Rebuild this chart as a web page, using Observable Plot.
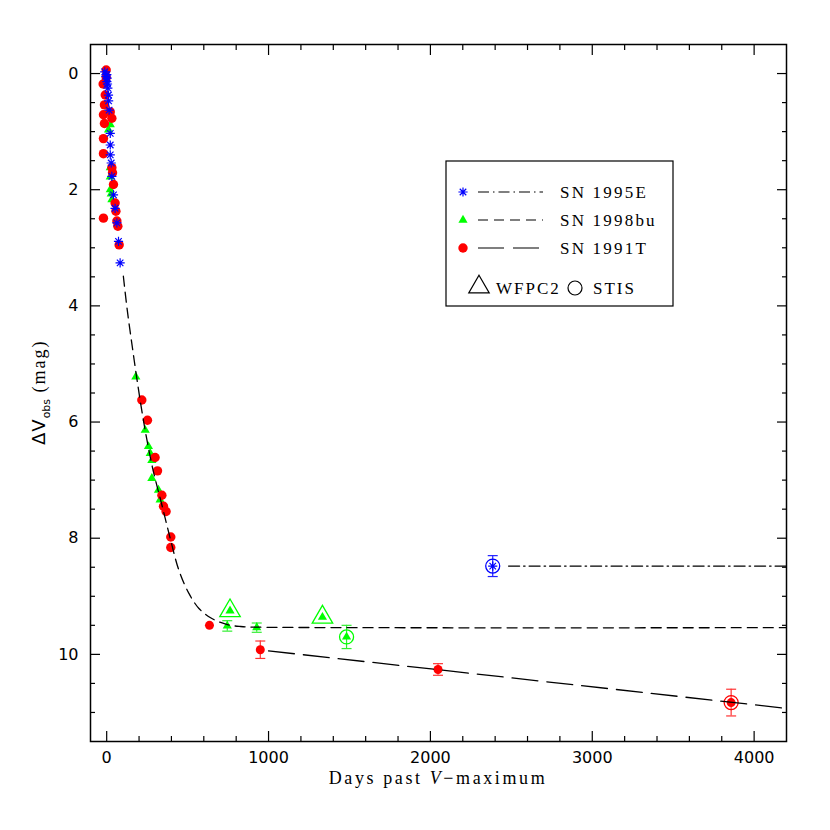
<!DOCTYPE html>
<html>
<head>
<meta charset="utf-8">
<script src="https://cdn.jsdelivr.net/npm/d3@7"></script>
<script src="https://cdn.jsdelivr.net/npm/@observablehq/plot@0.6"></script>
<style>
  body { margin: 0; background: #fff; }
  #chart { width: 830px; height: 830px; }
</style>
</head>
<body>
<div id="chart"></div>
<script>
// ---- data: [days past V-max, delta V_obs] ----
const sn1995E = [
  [-12, -0.03], [-5, 0.05], [1, 0.02], [3, 0.08], [1, 0.14], [5, 0.18], [7, 0.25],
  [11, 0.37], [12, 0.47], [15, 0.63], [22, 1.03], [22, 1.23], [22, 1.40],
  [28, 1.54], [32, 1.77], [42, 2.09], [52, 2.32], [63, 2.57], [73, 2.89], [83, 3.26]
];
const sn1998bu = [
  [11, 0.97], [22, 0.88], [22, 1.62], [22, 1.78], [22, 2.00], [28, 2.07], [32, 2.17],
  [180, 5.22], [238, 6.14], [258, 6.42], [269, 6.54], [279, 6.66], [279, 6.97],
  [320, 7.17], [330, 7.34]
];
const sn1991T = [
  [-3, -0.06], [-3, 0.07], [-22, 0.18], [-9, 0.37], [-14, 0.54], [-20, 0.71],
  [-14, 0.86], [-20, 1.12], [-20, 1.38], [22, 0.66], [32, 0.77], [32, 1.62],
  [36, 1.71], [42, 1.91], [52, 2.23], [57, 2.37], [63, 2.54], [69, 2.63], [77, 2.95],
  [-20, 2.49],
  [217, 5.62], [252, 5.97], [299, 6.61], [314, 6.84], [341, 7.26], [351, 7.45],
  [367, 7.54], [396, 7.98], [396, 8.16]
];
// late-time points: [day, mag, error, instrument]
const late1995E = [[2385, 8.48, 0.18, "STIS"]];
const late1998bu = [
  [745, 9.51, 0.09, ""], [762, 9.25, 0, "WFPC2"], [927, 9.54, 0.08, ""],
  [1333, 9.36, 0, "WFPC2"], [1482, 9.70, 0.20, "STIS"]
];
const late1991T = [
  [635, 9.50, 0, ""], [949, 9.92, 0.15, ""], [2047, 10.26, 0.10, ""], [3858, 10.83, 0.23, "STIS"]
];
// model curves
const curve1995E = [[2483, 8.48], [4200, 8.48]];
const curve1998bu = [
  [103, 3.49], [127, 4.07], [158, 4.70], [189, 5.30], [230, 6.02], [282, 6.77],
  [344, 7.46], [395, 8.03], [446, 8.55], [508, 8.95], [570, 9.21], [642, 9.37],
  [704, 9.45], [765, 9.50], [827, 9.52], [900, 9.53], [4200, 9.54]
];
const curve1991T = [[1000, 9.94], [4200, 10.93]];

const xMajorTicks = [0, 1000, 2000, 3000, 4000];
const yMajorTicks = [0, 2, 4, 6, 8, 10];
const xMinorTicks = d3.range(200, 4200, 200).filter(v => v % 1000 !== 0);
const yMinorTicks = d3.range(0.5, 11.5, 0.5).filter(v => v % 2 !== 0);

const legendNames = ["SN 1995E", "SN 1998bu", "SN 1991T"];
const instrumentNames = ["WFPC2", "STIS"];

// ---- styles ----
const BLUE = "#0000ff", GREEN = "#00ff00", RED = "#ff0000";
const DASH_95E = "11,4,1.5,4", DASH_98bu = "10,6", DASH_91T = "26,9";
const SERIF = "Liberation Serif";

const asterisk8 = {
  draw(ctx, size) {
    const r = Math.sqrt(size / Math.PI);
    for (let i = 0; i < 4; i++) {
      const a = i * Math.PI / 4;
      ctx.moveTo(r * Math.cos(a), r * Math.sin(a));
      ctx.lineTo(-r * Math.cos(a), -r * Math.sin(a));
    }
  }
};
const cap = {
  draw(ctx, size) {
    const r = Math.sqrt(size / Math.PI);
    ctx.moveTo(-r, 0); ctx.lineTo(r, 0);
  }
};

const X = d => d[0], Y = d => d[1];
const withErr = arr => arr.filter(d => d[2] > 0);
const fmt = d => String(d);

function errorMarks(arr, color) {
  const e = withErr(arr);
  return [
    Plot.ruleX(e, {x: X, y1: d => d[1] - d[2], y2: d => d[1] + d[2], stroke: color, strokeWidth: 1.2}),
    Plot.dot(e, {x: X, y: d => d[1] - d[2], symbol: cap, r: 5, stroke: color, strokeWidth: 1.2}),
    Plot.dot(e, {x: X, y: d => d[1] + d[2], symbol: cap, r: 5, stroke: color, strokeWidth: 1.2})
  ];
}

const plot = Plot.plot({
  width: 830,
  height: 830,
  marginLeft: 90,
  marginRight: 44,
  marginTop: 44,
  marginBottom: 89,
  x: {domain: [-100, 4200]},
  y: {domain: [-0.5, 11.5], reverse: true},
  style: {fontFamily: "DejaVu Sans", fontSize: "16px", background: "white", color: "black"},
  marks: [
    // early-time photometry
    Plot.dot(sn1998bu, {x: X, y: Y, symbol: "triangle", r: 3.4, fill: GREEN, stroke: "none"}),
    Plot.dot(sn1991T, {x: X, y: Y, r: 4.7, fill: RED, stroke: "none"}),
    Plot.dot(sn1995E, {x: X, y: Y, symbol: asterisk8, r: 4.6, stroke: BLUE, strokeWidth: 1.2}),
    // late-time error bars
    ...errorMarks(late1998bu, "#33ee33"),
    ...errorMarks(late1991T, "#ff3333"),
    ...errorMarks(late1995E, "#2222ff"),
    // late-time points
    Plot.dot(late1998bu, {x: X, y: Y, symbol: "triangle", r: 3.4, fill: GREEN, stroke: "none"}),
    Plot.dot(late1991T, {x: X, y: Y, r: 4.5, fill: RED, stroke: "none"}),
    Plot.dot(late1995E, {x: X, y: Y, symbol: asterisk8, r: 4.6, stroke: BLUE, strokeWidth: 1.2}),
    // instrument markers
    Plot.dot(late1998bu.filter(d => d[3] === "WFPC2"), {x: X, y: Y, symbol: "triangle", r: 7.6, stroke: GREEN, fill: "none", strokeWidth: 1.3}),
    Plot.dot(late1998bu.filter(d => d[3] === "STIS"), {x: X, y: Y, r: 7, stroke: GREEN, fill: "none", strokeWidth: 1.3}),
    Plot.dot(late1991T.filter(d => d[3] === "STIS"), {x: X, y: Y, r: 7, stroke: RED, fill: "none", strokeWidth: 1.3}),
    Plot.dot(late1995E.filter(d => d[3] === "STIS"), {x: X, y: Y, r: 7, stroke: BLUE, fill: "none", strokeWidth: 1.3}),
    // model curves
    Plot.line(curve1998bu, {x: X, y: Y, stroke: "black", strokeWidth: 1.3, strokeDasharray: DASH_98bu, curve: "catmull-rom", clip: true}),
    Plot.line(curve1991T, {x: X, y: Y, stroke: "black", strokeWidth: 1.3, strokeDasharray: DASH_91T, clip: true}),
    Plot.line(curve1995E, {x: X, y: Y, stroke: "black", strokeWidth: 1.3, strokeDasharray: DASH_95E, clip: true}),
    // frame and axes
    Plot.frame({stroke: "black", strokeWidth: 1.5}),
    Plot.axisX(xMajorTicks, {anchor: "bottom", tickSize: 0, tickPadding: 10, label: null, tickFormat: fmt}),
    Plot.axisY(yMajorTicks, {anchor: "left", tickSize: 0, tickPadding: 12, label: null, tickFormat: fmt}),
    Plot.axisX(xMajorTicks, {anchor: "bottom", tickSize: -10, fill: "none", label: null, strokeWidth: 1.2}),
    Plot.axisX(xMinorTicks, {anchor: "bottom", tickSize: -5, fill: "none", label: null, strokeWidth: 1.2}),
    Plot.axisX(xMajorTicks, {anchor: "top", tickSize: -10, fill: "none", label: null, strokeWidth: 1.2}),
    Plot.axisX(xMinorTicks, {anchor: "top", tickSize: -5, fill: "none", label: null, strokeWidth: 1.2}),
    Plot.axisY(yMajorTicks, {anchor: "left", tickSize: -10, fill: "none", label: null, strokeWidth: 1.2}),
    Plot.axisY(yMinorTicks, {anchor: "left", tickSize: -5, fill: "none", label: null, strokeWidth: 1.2}),
    Plot.axisY(yMajorTicks, {anchor: "right", tickSize: -10, fill: "none", label: null, strokeWidth: 1.2}),
    Plot.axisY(yMinorTicks, {anchor: "right", tickSize: -5, fill: "none", label: null, strokeWidth: 1.2})
  ]
});

document.getElementById("chart").appendChild(plot);

// ---- axis titles and legend (layout elements) ----
const svg = d3.select(plot);

const xl = svg.append("text")
  .attr("x", 438).attr("y", 784)
  .attr("text-anchor", "middle")
  .attr("font-family", SERIF).attr("font-size", 18)
  .attr("letter-spacing", 2.6)
  .attr("fill", "black");
xl.append("tspan").text("Days past ");
xl.append("tspan").attr("font-style", "italic").text("V");
xl.append("tspan").text("\u2212maximum");

const yl = svg.append("text")
  .attr("transform", "translate(45,445) rotate(-90)")
  .attr("text-anchor", "start")
  .attr("fill", "black");
yl.append("tspan").attr("font-family", "DejaVu Sans").attr("font-size", 18).attr("letter-spacing", 1).text("\u0394V");
yl.append("tspan").attr("font-family", "DejaVu Sans").attr("font-size", 11).attr("dy", 5).text("obs");
yl.append("tspan").attr("font-family", SERIF).attr("font-size", 18).attr("dy", -5).attr("letter-spacing", 2).text(" (mag)");

const lg = svg.append("g").attr("text-anchor", "start");
lg.append("rect").attr("x", 446).attr("y", 161).attr("width", 227).attr("height", 145)
  .attr("fill", "white").attr("stroke", "black").attr("stroke-width", 1.2);

const rows = [
  {y: 192, color: BLUE, dash: DASH_95E, kind: "asterisk"},
  {y: 220, color: GREEN, dash: DASH_98bu, kind: "triangle"},
  {y: 248, color: RED, dash: DASH_91T, kind: "circle"}
];
rows.forEach((r, i) => {
  if (r.kind === "asterisk") {
    lg.append("path").attr("transform", `translate(463,${r.y})`)
      .attr("d", d3.symbol(asterisk8, Math.PI * 4.6 * 4.6)())
      .attr("stroke", r.color).attr("fill", "none").attr("stroke-width", 1.2);
  } else if (r.kind === "triangle") {
    lg.append("path").attr("transform", `translate(463,${r.y})`)
      .attr("d", d3.symbol(d3.symbolTriangle, Math.PI * 3.4 * 3.4)())
      .attr("fill", r.color);
  } else {
    lg.append("circle").attr("cx", 463).attr("cy", r.y).attr("r", 4.7).attr("fill", r.color);
  }
  lg.append("line").attr("x1", 478).attr("x2", 543).attr("y1", r.y).attr("y2", r.y)
    .attr("stroke", "black").attr("stroke-width", 1.2).attr("stroke-dasharray", r.dash);
  lg.append("text").attr("x", 560).attr("y", r.y + 6).attr("text-anchor", "start")
    .attr("font-family", SERIF).attr("font-size", 17).attr("letter-spacing", 2.2)
    .attr("fill", "black").text(legendNames[i]);
});
lg.append("path").attr("transform", "translate(479,287)")
  .attr("d", d3.symbol(d3.symbolTriangle, Math.PI * 7.6 * 7.6)())
  .attr("fill", "none").attr("stroke", "black").attr("stroke-width", 1.2);
lg.append("text").attr("x", 496).attr("y", 294).attr("text-anchor", "start")
  .attr("font-family", SERIF).attr("font-size", 17).attr("letter-spacing", 2)
  .attr("fill", "black").text(instrumentNames[0]);
lg.append("circle").attr("cx", 575).attr("cy", 288).attr("r", 7)
  .attr("fill", "none").attr("stroke", "black").attr("stroke-width", 1.2);
lg.append("text").attr("x", 593).attr("y", 294).attr("text-anchor", "start")
  .attr("font-family", SERIF).attr("font-size", 17).attr("letter-spacing", 2)
  .attr("fill", "black").text(instrumentNames[1]);
</script>
</body>
</html>
